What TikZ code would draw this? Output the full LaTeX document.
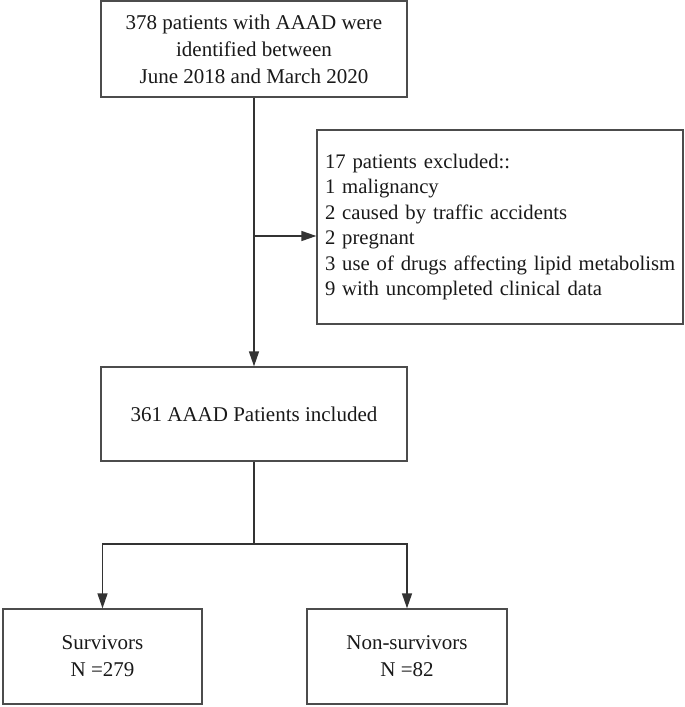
\documentclass[tikz,border=0pt]{standalone}
\usepackage{fontspec}
\setmainfont{Liberation Serif}
\usetikzlibrary{arrows.meta}
\begin{document}
\begin{tikzpicture}[x=1pt,y=-1pt,
  box/.style={draw=black!70,line width=1.3pt,fill=white,inner sep=0pt,align=center,
    font=\fontsize{21}{27}\selectfont,text=black!90},
  conn/.style={draw=black!80,line width=1.4pt},
  arr/.style={conn,-{Triangle[length=15pt,width=10pt]}}]
\useasboundingbox (0,0) rectangle (685,707);
\node[box,minimum width=306pt,minimum height=96pt] (top) at (254,49)
  {378 patients with AAAD were\\identified between\\June 2018 and March 2020};
\node[box,minimum width=366pt,minimum height=194pt,text width=350pt,inner xsep=8pt,align=left,
  font=\fontsize{20.7}{25.5}\selectfont] (excl) at (500,227)
  {17 patients excluded::\\1 malignancy\\2 caused by traffic accidents\\2 pregnant\\\mbox{3 use of drugs affecting lipid metabolism}\\9 with uncompleted clinical data};
\node[box,minimum width=306pt,minimum height=94pt] (mid) at (254,414) {361 AAAD Patients included};
\node[box,minimum width=199pt,minimum height=95pt] (surv) at (102.5,656.5) {Survivors\\N =279};
\node[box,minimum width=200pt,minimum height=95pt] (non) at (407,656.5) {Non-survivors\\N =82};
\coordinate (b1) at (254,236);
\coordinate (j) at (254,544);
\draw[arr] (top.south) -- (mid.north);
\draw[arr] (b1) -- (b1 -| excl.west);
\draw[conn] (mid.south) -- (j);
\draw[arr] (j) -| (surv.north);
\draw[arr] (j) -| (non.north);
\end{tikzpicture}
\end{document}
